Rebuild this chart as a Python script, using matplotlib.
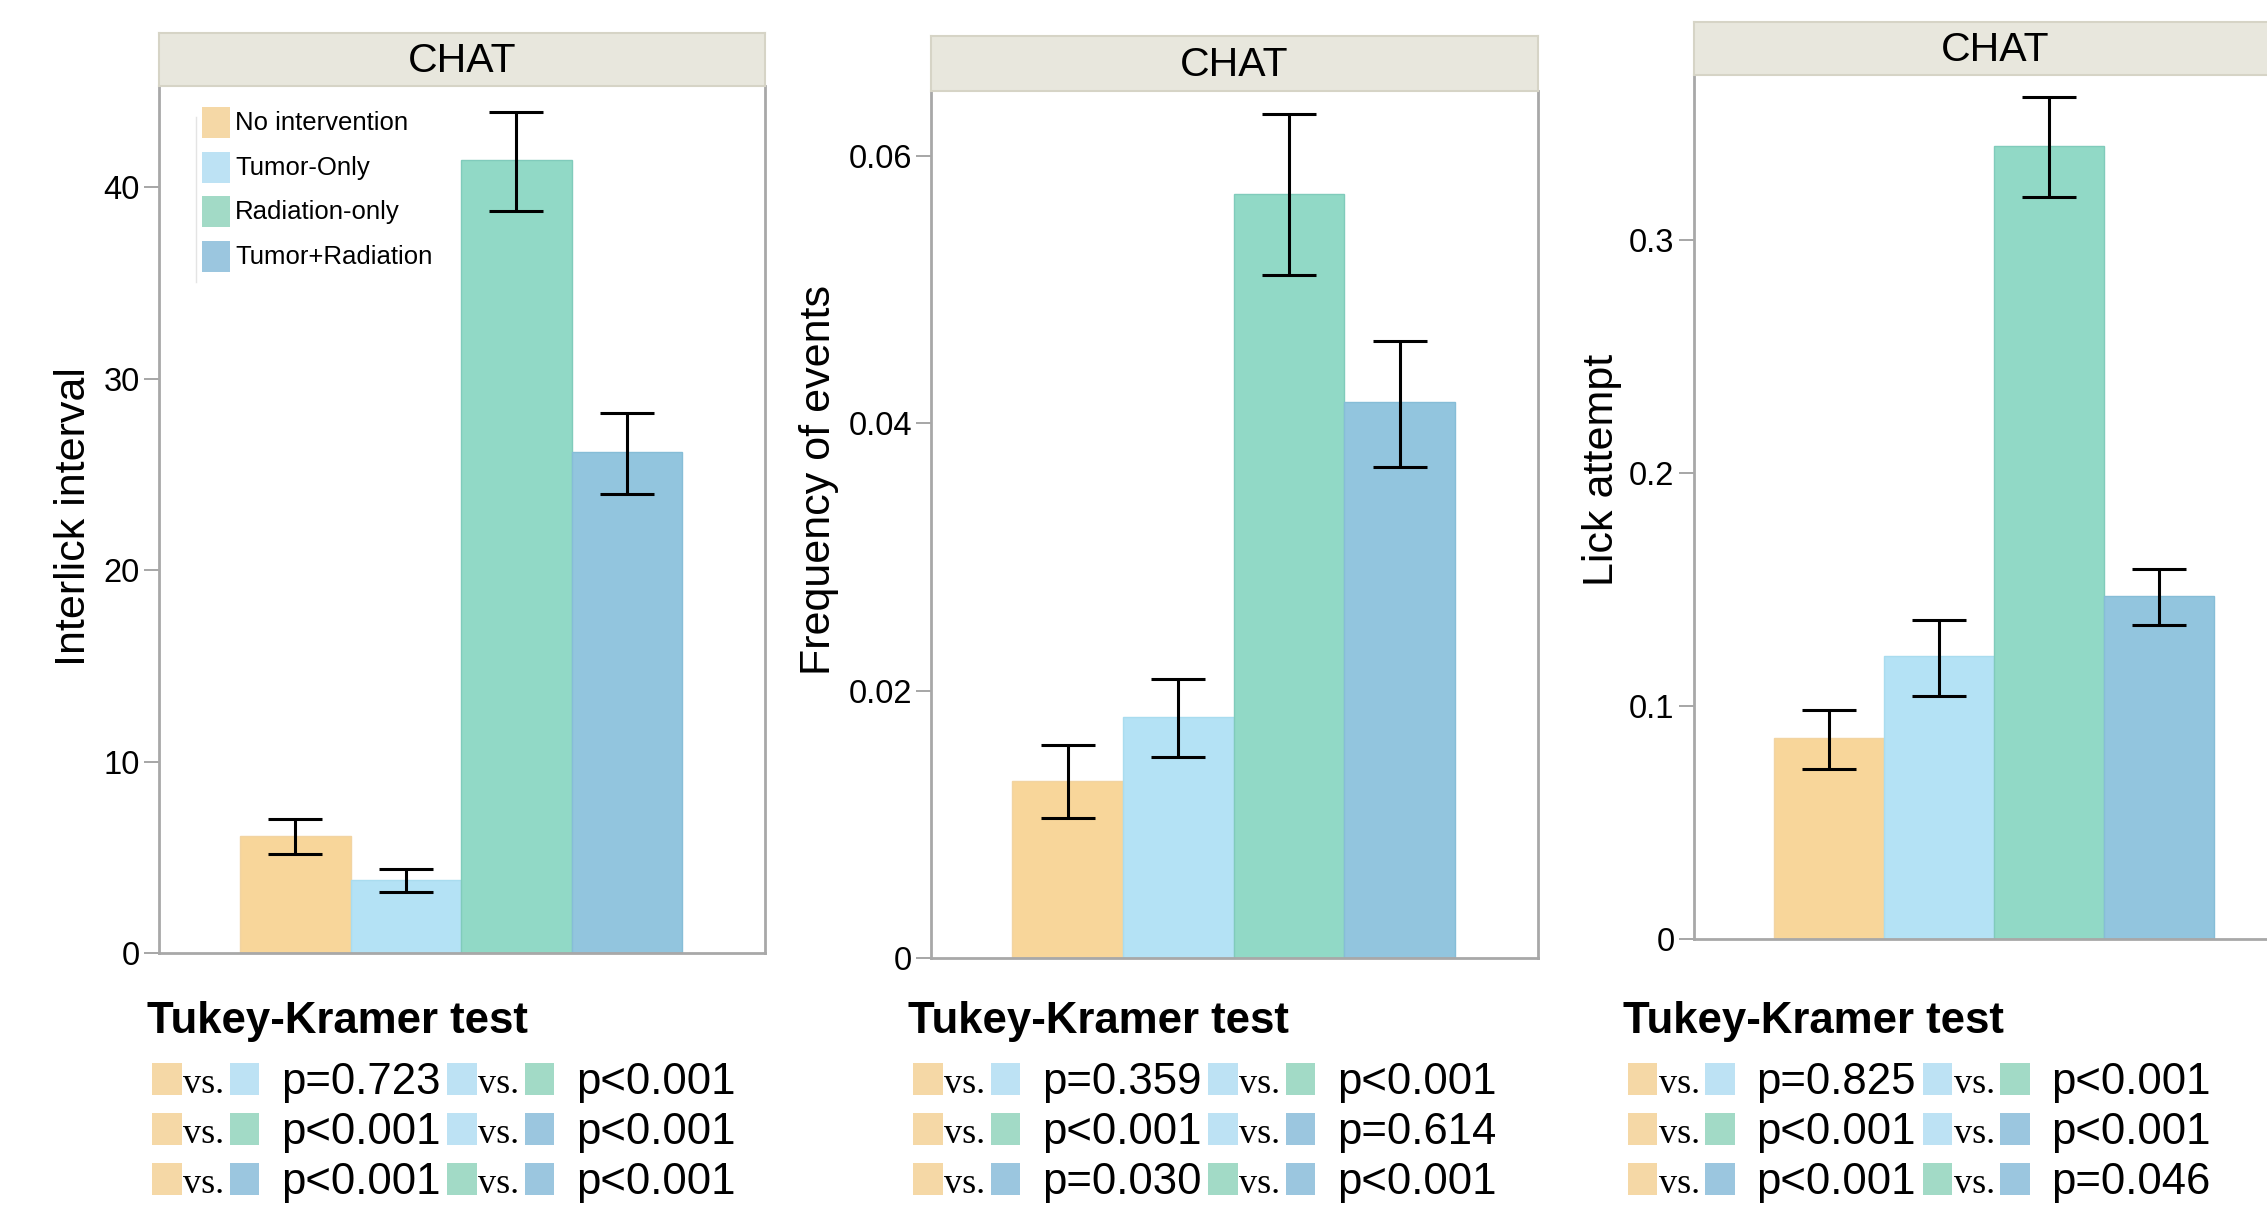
import matplotlib
matplotlib.use('Agg')
import matplotlib.pyplot as plt
from matplotlib.patches import Rectangle
from matplotlib.lines import Line2D
from matplotlib.transforms import Affine2D
import numpy as np

# ---------------- data ----------------
groups = ['No intervention', 'Tumor-Only', 'Radiation-only', 'Tumor+Radiation']
facet = 'CHAT'

interlick_mean = [6.11, 3.82, 41.44, 26.16]
interlick_lo = [5.19, 3.17, 38.77, 23.97]
interlick_hi = [6.99, 4.38, 43.93, 28.18]

freq_mean = [0.01322, 0.01804, 0.05715, 0.04154]
freq_lo = [0.01047, 0.01505, 0.05107, 0.03673]
freq_hi = [0.01589, 0.02084, 0.06308, 0.04617]

lick_mean = [0.0861, 0.1213, 0.3402, 0.1470]
lick_lo = [0.0730, 0.1044, 0.3185, 0.1347]
lick_hi = [0.0982, 0.1368, 0.3614, 0.1586]

ylabels = ['Interlick interval', 'Frequency of events', 'Lick attempt']
yticks1 = [0, 10, 20, 30, 40]
yticklabels1 = ['0', '10', '20', '30', '40']
yticks2 = [0, 0.02, 0.04, 0.06]
yticklabels2 = ['0', '0.02', '0.04', '0.06']
yticks3 = [0, 0.1, 0.2, 0.3]
yticklabels3 = ['0', '0.1', '0.2', '0.3']

test_title = 'Tukey-Kramer test'
pairs = [(0, 1), (0, 2), (0, 3), (1, 2), (1, 3), (2, 3)]
pvals1 = ['p=0.723', 'p<0.001', 'p<0.001', 'p<0.001', 'p<0.001', 'p<0.001']
pvals2 = ['p=0.359', 'p<0.001', 'p=0.030', 'p<0.001', 'p=0.614', 'p<0.001']
pvals3 = ['p=0.825', 'p<0.001', 'p<0.001', 'p<0.001', 'p<0.001', 'p=0.046']

# ---------------- style ----------------
bar_colors = ['#F8D69A', '#B4E2F5', '#91D9C6', '#92C5DE']
edge_colors = ['#F2D4A2', '#A9DCEF', '#80CBBB', '#86BDD7']
key_colors = ['#F5D8A6', '#BDE2F4', '#A2DAC6', '#9BC6DF']
strip_face = '#E8E7DD'
strip_edge = '#D6D4C6'
spine_col = '#A8A8A8'

W, H, DPI = 2267, 1206, 100
plt.rcParams['font.family'] = ['Liberation Sans', 'DejaVu Sans']
fig = plt.figure(figsize=(W / DPI, H / DPI), dpi=DPI)
fig.patch.set_facecolor('white')
px = Affine2D().scale(1 / W, -1 / H).translate(0, 1) + fig.transFigure


def rect(x0, x1, y0, y1):
    return [x0 / W, 1 - y1 / H, (x1 - x0) / W, (y1 - y0) / H]


panels = [
    dict(mean=interlick_mean, lo=interlick_lo, hi=interlick_hi, ylabel=ylabels[0],
         box=(159, 765, 85.6, 953), strip=(32.5, 85.6), ytop=45.3,
         ticks=yticks1, tlabels=yticklabels1, lab=(85, 517), tx=152, pv=pvals1),
    dict(mean=freq_mean, lo=freq_lo, hi=freq_hi, ylabel=ylabels[1],
         box=(931, 1538, 90.6, 958), strip=(36, 90.6), ytop=0.06486,
         ticks=yticks2, tlabels=yticklabels2, lab=(830, 480), tx=913, pv=pvals2),
    dict(mean=lick_mean, lo=lick_lo, hi=lick_hi, ylabel=ylabels[2],
         box=(1693.5, 2297, 75, 939), strip=(22, 75), ytop=0.3708,
         ticks=yticks3, tlabels=yticklabels3, lab=(1613.5, 470), tx=1627.6, pv=pvals3),
]

x = np.arange(len(groups))
for p in panels:
    x0, x1, y0, y1 = p['box']
    ax = fig.add_axes(rect(x0, x1, y0, y1))
    mean = np.array(p['mean'])
    lo = np.array(p['lo'])
    hi = np.array(p['hi'])
    ax.bar(x, mean, width=1.0, color=bar_colors, edgecolor=edge_colors, linewidth=1.0, zorder=2)
    ax.errorbar(x, mean, yerr=[mean - lo, hi - mean], fmt='none', ecolor='black',
                elinewidth=2.2, capsize=19.5, capthick=2.2, zorder=3)
    ax.set_xlim(-1.234, 4.25)
    ax.set_ylim(0, p['ytop'])
    ax.set_xticks([])
    ax.set_yticks(p['ticks'])
    ax.set_yticklabels(p['tlabels'])
    ax.tick_params(axis='y', direction='out', length=10.8, width=1.44, color=spine_col,
                   labelsize=23.5, pad=2.9)
    for s in ['left', 'right', 'bottom']:
        ax.spines[s].set_color(spine_col)
        ax.spines[s].set_linewidth(2.0)
    ax.spines['top'].set_visible(False)

    # facet strip
    s0, s1 = p['strip']
    sax = fig.add_axes(rect(x0, x1, s0, s1))
    sax.set_facecolor(strip_face)
    sax.set_xticks([])
    sax.set_yticks([])
    for s in sax.spines.values():
        s.set_color(strip_edge)
        s.set_linewidth(1.5)
    sax.text(0.5, 0.47, facet, ha='center', va='center', fontsize=29.5, transform=sax.transAxes)

    # y label
    fig.text(p['lab'][0], p['lab'][1], p['ylabel'], transform=px, rotation=90,
             rotation_mode='anchor', ha='center', va='baseline', fontsize=31)

    # Tukey-Kramer table
    tx = p['tx']
    fig.text(tx - 5, 1032.7, test_title, transform=px, ha='left', va='baseline',
             fontsize=31.5, fontweight='bold')
    for k, (a, b) in enumerate(pairs):
        c, r = divmod(k, 3)
        base = tx + 295 * c
        top = 1062.7 + 50 * r
        fig.patches.append(Rectangle((base, top), 29.5, 32.3, transform=px,
                                     facecolor=key_colors[a], edgecolor='none'))
        fig.patches.append(Rectangle((base + 77.5, top), 29.5, 32.3, transform=px,
                                     facecolor=key_colors[b], edgecolor='none'))
        fig.text(base + 31, top + 30.5, 'vs.', transform=px, ha='left', va='baseline',
                 fontsize=26, family=['Liberation Serif', 'DejaVu Serif'])
        fig.text(base + 129, top + 31.5, p['pv'][k], transform=px, ha='left',
                 va='baseline', fontsize=31.5)

# legend inside first panel
fig.lines.append(Line2D([196, 196], [117, 282], transform=px, color='#E4E4E4', lw=1))
for i, g in enumerate(groups):
    top = 107 + 44.5 * i
    fig.patches.append(Rectangle((201.7, top), 28.5, 31, transform=px,
                                 facecolor=key_colors[i], edgecolor='none'))
    fig.text(235, top + 23.5, g, transform=px, ha='left', va='baseline', fontsize=18.5)

fig.savefig('out.png', dpi=DPI)
